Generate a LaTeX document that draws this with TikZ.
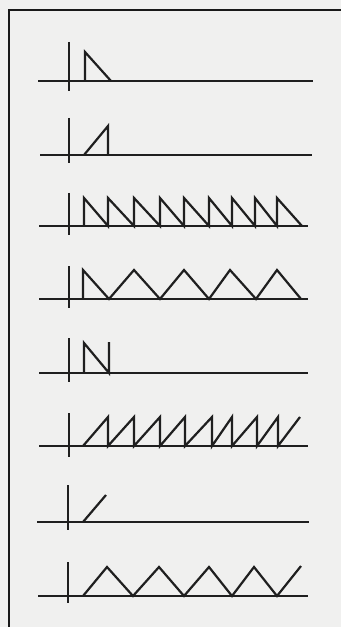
\documentclass[tikz,border=0pt]{standalone}
\begin{document}
\begin{tikzpicture}[x=0.75pt,y=-0.75pt,
  wave/.style={line width=1.65pt,color=black!88,line join=miter},
  axis/.style={line width=1.65pt,color=black!88},
  frame/.style={line width=2.2pt,color=black!90}]
\definecolor{paper}{RGB}{240,240,239}
\fill[paper] (0,0) rectangle (341,627);
\useasboundingbox (0,0) rectangle (341,627);
% frame
\draw[frame] (9,627) -- (9,10) -- (341,10);
% row 1
\draw[axis] (38,81) -- (313,81);
\draw[axis] (69,42) -- (69,91);
\draw[wave] (85,81) -- (85,52) -- (111,81);
% row 2
\draw[axis] (40,155) -- (312,155);
\draw[axis] (69,118) -- (69,163);
\draw[wave] (84,155) -- (108,126) -- (108,155);
% row 3
\draw[axis] (39,226) -- (308,226);
\draw[axis] (69,193) -- (69,235);
\draw[wave] (84,226) -- (84,198) -- (108,226) -- (108,198) -- (134,226) -- (134,198)
  -- (160,226) -- (160,198) -- (184,226) -- (184,198) -- (209,226) -- (209,198)
  -- (232,226) -- (232,198) -- (255,226) -- (255,198) -- (277,226) -- (277,198) -- (302,226);
% row 4
\draw[axis] (39,299) -- (308,299);
\draw[axis] (69,266) -- (69,308);
\draw[wave] (83,299) -- (83,270) -- (109,299) -- (134,270) -- (160,299) -- (184,270)
  -- (209,299) -- (230,270) -- (256,299) -- (277,270) -- (301,299);
% row 5
\draw[axis] (39,373) -- (308,373);
\draw[axis] (69,338) -- (69,382);
\draw[wave] (84,373) -- (84,343) -- (109,373) -- (109,342);
% row 6
\draw[axis] (39,446) -- (308,446);
\draw[axis] (69,413) -- (69,457);
\draw[wave] (83,446) -- (108,417) -- (108,446) -- (134,417) -- (134,446) -- (160,417)
  -- (160,446) -- (185,417) -- (185,446) -- (212,417) -- (212,446) -- (232,417)
  -- (232,446) -- (257,417) -- (257,446) -- (278,417) -- (278,446) -- (300,417);
% row 7
\draw[axis] (37,522) -- (309,522);
\draw[axis] (68,485) -- (68,530);
\draw[wave] (83,522) -- (106,495);
% row 8
\draw[axis] (38,596) -- (308,596);
\draw[axis] (68,562) -- (68,603);
\draw[wave] (83,596) -- (107,567) -- (133,596) -- (159,567) -- (184,596) -- (209,567)
  -- (232,596) -- (254,567) -- (277,596) -- (301,566);
\end{tikzpicture}
\end{document}
